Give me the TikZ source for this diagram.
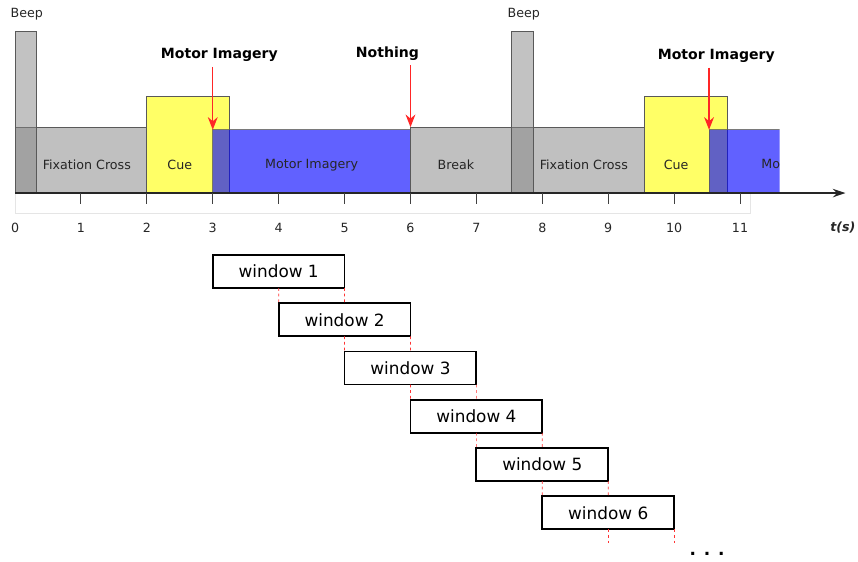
\documentclass[tikz,border=0pt]{standalone}
\usepackage{fontspec}
\setmainfont{DejaVu Sans}
\usetikzlibrary{arrows.meta,positioning}

\definecolor{fixgray}{HTML}{C0C0C0}
\definecolor{cueyellow}{HTML}{FFFF66}
\definecolor{beepgray}{HTML}{858585}

\tikzset{
  phase/.style={draw=black!65, line width=0.5pt},
  beep/.style={phase, fill=beepgray, fill opacity=0.5},
  mi/.style={phase, fill=blue, fill opacity=0.62, draw opacity=0.8},
  lbl/.style={font=\fontsize{9}{11}\selectfont, text=black!85},
  event/.style={font=\fontsize{10}{12}\selectfont\bfseries},
  cuearrow/.style={red!85, line width=0.9pt, -{Stealth[length=9pt,width=7pt]}},
  win/.style={draw, line width=1.3pt, fill=white, minimum width=3.295cm,
    minimum height=0.824cm, outer sep=0pt, font=\fontsize{12}{14}\selectfont},
  winlink/.style={red!80, line width=0.5pt, dash pattern=on 2pt off 2pt},
}

\begin{document}
\begin{tikzpicture}[x=1.6475cm, y=1.6475cm]
\useasboundingbox (-0.228,-5.584) rectangle (12.79,2.929);

% first trial
\draw[phase, fill=fixgray] (0,0) rectangle (2,1);
\draw[phase, fill=cueyellow] (2,0) rectangle (3.25,1.46);
\draw[mi] (3,0) rectangle (6,0.96);
\draw[phase, fill=fixgray] (6,0) rectangle (7.53,1);
\draw[beep] (0,0) rectangle (0.33,2.46);

% second trial
\draw[phase, fill=fixgray] (7.53,0) rectangle (9.55,1);
\draw[phase, fill=cueyellow] (9.55,0) rectangle (10.8,1.46);
\begin{scope}
  \clip (10.53,-0.1) rectangle (11.6,1.2);
  \draw[mi] (10.53,0) rectangle (13.53,0.96);
  \node[lbl] (mi2) at (12.03,0.43) {Motor Imagery};
\end{scope}
\draw[beep] (7.53,0) rectangle (7.86,2.46);

\node[lbl] (fix1) at (1.09,0.43) {Fixation Cross};
\node[lbl] (cue1) at (2.5,0.43) {Cue};
\node[lbl] (mi1) at (4.5,0.43) {Motor Imagery};
\node[lbl] (brk) at (6.69,0.43) {Break};
\node[lbl] (fix2) at (8.63,0.43) {Fixation Cross};
\node[lbl] (cue2) at (10.03,0.43) {Cue};
\node[lbl] (beep1) at (0.18,2.72) {Beep};
\node[lbl] (beep2) at (7.72,2.72) {Beep};

% events
\coordinate (t1) at (3,0.96);
\coordinate (t2) at (6,1);
\coordinate (t3) at (10.53,0.96);
\node[event] (ev1) at (3.10,2.09) {Motor Imagery};
\node[event] (ev2) at (5.65,2.12) {Nothing};
\node[event] (ev3) at (10.64,2.08) {Motor Imagery};
\draw[cuearrow] (ev1.south -| t1) -- (t1);
\draw[cuearrow] (ev2.south -| t2) -- (t2);
\draw[cuearrow] (ev3.south -| t3) -- (t3);

% time axis
\draw[black!10, line width=0.4pt] (0,0) rectangle (11.15,-0.30);
\draw[line width=1.3pt, black!85, -{Stealth[length=9pt,width=6pt]}] (0,0) -- (12.6,0);
\foreach \t in {1,...,11}
  \draw[black!75, line width=0.7pt] (\t,0) -- (\t,-0.17);
\foreach \t in {0,...,11}
  \node[lbl] (n\t) at (\t,-0.53) {\t};
\node[lbl, font=\fontsize{9}{11}\selectfont\bfseries\itshape] (tlab) at (12.56,-0.53) {t(s)};

% sliding windows
\foreach \i in {1,...,6}
  \node[win] (w\i) at ({\i+3},{-1.191-0.732*(\i-1)}) {window \i};
\foreach \i [count=\j from 2] in {1,...,5} {
  \draw[winlink] (w\i.south) -- (w\j.north west);
  \draw[winlink] (w\i.south east) -- (w\j.north);
}
\coordinate[below=0.36cm of w6.south] (e1);
\coordinate[below=0.36cm of w6.south east] (e2);
\draw[winlink] (w6.south) -- (e1);
\draw[winlink] (w6.south east) -- (e2);
\node[font=\fontsize{12}{14}\selectfont\bfseries, anchor=base] (dots) at (10.5,-5.50) {. . .};
\end{tikzpicture}
\end{document}
